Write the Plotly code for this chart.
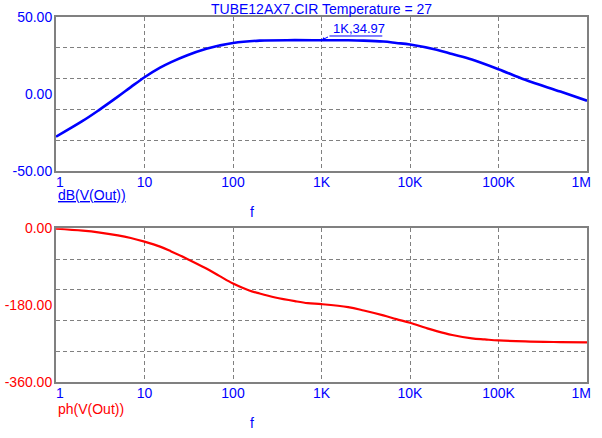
import plotly.graph_objects as go
from plotly.subplots import make_subplots

# Values
freq_db = [1, 2, 3, 5, 7, 10, 15, 20, 30, 50, 70, 100, 200, 500, 1e3, 2e3, 3e3, 5e3, 7e3,
           1e4, 2e4, 3e4, 5e4, 1e5, 2e5, 5e5, 1e6]
gain_db = [-27.5, -17.3, -10.6, -1.6, 4.6, 11.0, 17.2, 20.8, 25.1, 29.4, 31.5, 33.2, 34.7,
           35.0, 34.97, 34.9, 34.7, 34.1, 33.2, 32.2, 28.8, 26.0, 22.5, 16.2, 9.3, 1.7, -4.2]

freq_ph = [1, 2, 3, 5, 7, 10, 15, 20, 30, 50, 70, 100, 150, 200, 300, 500, 700,
           1e3, 2e3, 3e3, 5e3, 7e3, 1e4, 1.5e4, 2e4, 3e4, 5e4, 7e4, 1e5, 2e5, 5e5, 1e6]
phase_deg = [-0.8, -5.5, -9.4, -16.4, -22.6, -31.2, -42.9, -54.0, -71.0, -94.3, -111.4,
             -129.4, -145.0, -152.7, -162.0, -170.6, -175.3, -177.7, -184.7, -192.5,
             -204.0, -212.7, -221.3, -233.0, -240.8, -250.0, -258.0, -260.3, -262.6,
             -265.0, -266.5, -267.3]

x_tickvals = [1, 10, 100, 1e3, 1e4, 1e5, 1e6]
x_ticktext = ['\u00a0\u00a01', '10', '100', '1K', '10K', '100K', '1M\u00a0\u00a0\u00a0']

db_tickvals = [-50, 0, 50]
db_ticktext = ['-50.00', '0.00', '50.00']
db_gridvals = [-30, -10, 10, 30]

ph_tickvals = [-360, -180, 0]
ph_ticktext = ['-360.00', '-180.00', '0.00']
ph_gridvals = [-288, -216, -144, -72]

marker_f, marker_db = 1e3, 34.97

BLUE = '#0000ff'
RED = '#ff0000'
GRID = '#808080'
DASH = '4px,3px'
FONT = 'Liberation Sans, Arial, sans-serif'

fig = make_subplots(rows=2, cols=1)

fig.add_trace(go.Scatter(
    x=freq_db, y=gain_db, mode='lines', line=dict(color=BLUE, width=2.6, shape='spline'),
    showlegend=False, hoverinfo='skip'), row=1, col=1)
fig.add_trace(go.Scatter(
    x=freq_ph, y=phase_deg, mode='lines', line=dict(color=RED, width=2.2, shape='spline'),
    showlegend=False, hoverinfo='skip'), row=2, col=1)

fig.update_xaxes(
    type='log', range=[0, 6], tickmode='array', tickvals=x_tickvals, ticktext=x_ticktext,
    showgrid=True, gridcolor=GRID, griddash=DASH, gridwidth=1,
    showline=True, linecolor=GRID, linewidth=2, mirror=True, zeroline=False,
    ticks='', ticklabelstandoff=-3, ticklabeloverflow='allow', automargin=False,
    tickfont=dict(family=FONT, size=14, color=BLUE),
)

fig.update_yaxes(
    range=[-50, 50], tickmode='array', tickvals=db_tickvals, ticktext=db_ticktext,
    showgrid=False, zeroline=False, showline=True, linecolor=GRID, linewidth=2, mirror=True,
    ticks='', automargin=False, ticklabelstandoff=-1,
    tickfont=dict(family=FONT, size=14, color=BLUE),
    minor=dict(tickmode='array', tickvals=db_gridvals, showgrid=True, gridcolor=GRID,
               griddash=DASH, gridwidth=1, ticklen=0),
    row=1, col=1)
fig.update_yaxes(
    range=[-360, 0], tickmode='array', tickvals=ph_tickvals, ticktext=ph_ticktext,
    showgrid=False, zeroline=False, showline=True, linecolor=GRID, linewidth=2, mirror=True,
    ticks='', automargin=False, ticklabelstandoff=-1,
    tickfont=dict(family=FONT, size=14, color=RED),
    minor=dict(tickmode='array', tickvals=ph_gridvals, showgrid=True, gridcolor=GRID,
               griddash=DASH, gridwidth=1, ticklen=0),
    row=2, col=1)

fig.update_layout(
    width=602, height=438,
    margin=dict(l=56, r=15, t=17, b=56),
    paper_bgcolor='white', plot_bgcolor='white',
    xaxis=dict(domain=[0, 1]), yaxis=dict(domain=[0.577, 1]),
    xaxis2=dict(domain=[0, 1]), yaxis2=dict(domain=[0, 0.421]),
    font=dict(family=FONT, size=14, color=BLUE),
)

txt = dict(family=FONT, size=14)
fig.add_annotation(text='TUBE12AX7.CIR Temperature = 27', xref='paper', yref='paper',
                   x=0.5, y=1.022, xanchor='center', yanchor='middle', showarrow=False,
                   font=dict(txt, color=BLUE))
fig.add_annotation(text='<u>dB(V(Out))</u>', xref='paper', yref='paper',
                   x=0, y=0.512, xanchor='left', yanchor='middle', showarrow=False,
                   font=dict(txt, color=BLUE))
fig.add_annotation(text='f', xref='paper', yref='paper', x=0.369, y=0.466,
                   xanchor='center', yanchor='middle', showarrow=False, font=dict(txt, color=BLUE))
fig.add_annotation(text='ph(V(Out))', xref='paper', yref='paper',
                   x=0, y=-0.074, xanchor='left', yanchor='middle', showarrow=False,
                   font=dict(txt, color=RED))
fig.add_annotation(text='f', xref='paper', yref='paper', x=0.369, y=-0.112,
                   xanchor='center', yanchor='middle', showarrow=False, font=dict(txt, color=BLUE))

# cursor label at 1K
fig.add_annotation(text=f'1K,{marker_db:.2f}', xref='x domain', yref='y domain',
                   x=0.518, y=0.925, xanchor='left', yanchor='middle', showarrow=False,
                   font=dict(txt, size=13, color=BLUE))
fig.add_shape(type='line', xref='x domain', yref='y domain', x0=0.515, x1=0.6145,
              y0=0.877, y1=0.877, line=dict(color=BLUE, width=1))
fig.add_annotation(text='', xref='x', yref='y', x=3, y=marker_db, ax=8, ay=-4,
                   showarrow=True, arrowhead=2, arrowsize=0.7, arrowwidth=1, arrowcolor=BLUE)

# page has a default body margin; drop it so the figure sits at the window corner
fig.write_html('out.html', config={'displayModeBar': False},
               post_script="document.body.style.margin='0';")
